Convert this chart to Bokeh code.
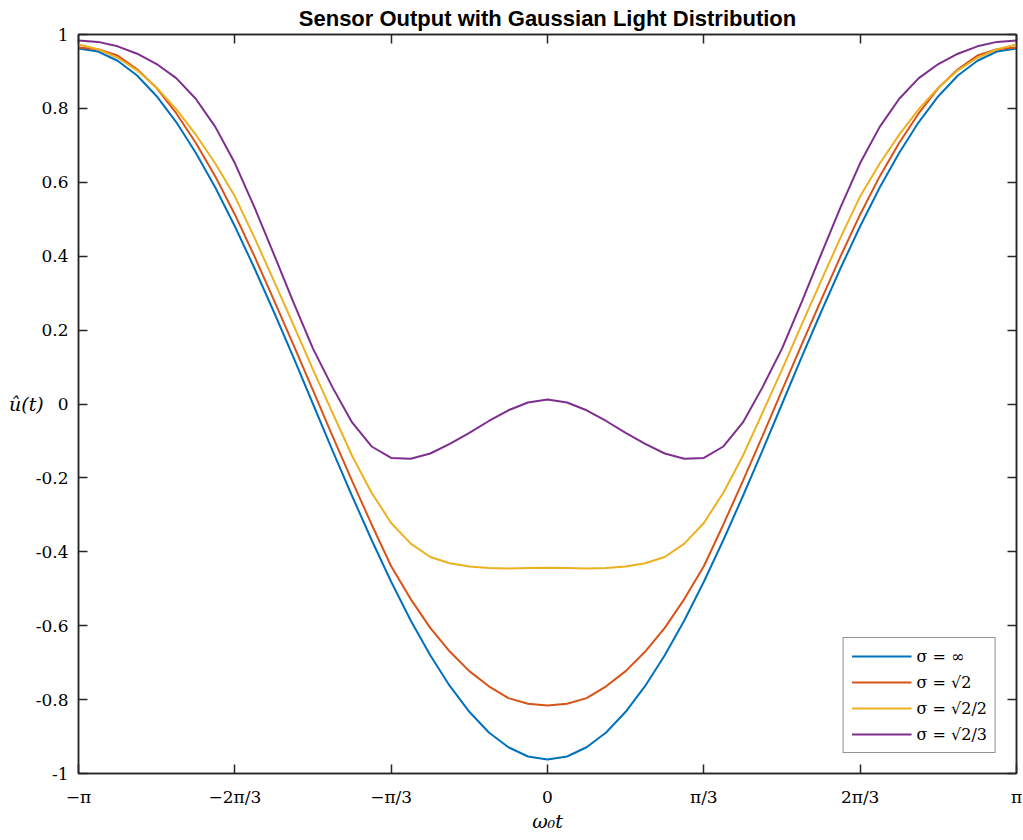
import math
from bokeh.plotting import figure
from bokeh.models import FixedTicker, LinearAxis, Legend, LegendItem, Range1d
from bokeh.embed import file_html
from bokeh.resources import INLINE

# phase omega0*t in degrees (converted to radians below)
phase_deg = [-180, -172.5, -165, -157.5, -150, -142.5, -135, -127.5, -120, -112.5, -105, -97.5,
             -90, -82.5, -75, -67.5, -60, -52.5, -45, -37.5, -30, -22.5, -15, -7.5,
             0, 7.5, 15, 22.5, 30, 37.5, 45, 52.5, 60, 67.5, 75, 82.5,
             90, 97.5, 105, 112.5, 120, 127.5, 135, 142.5, 150, 157.5, 165, 172.5, 180]

# sigma = infinity
u_inf = [0.962, 0.954, 0.929, 0.889, 0.833, 0.763, 0.680, 0.586, 0.481, 0.368, 0.249, 0.126,
         0.000, -0.126, -0.249, -0.368, -0.481, -0.586, -0.680, -0.763, -0.833, -0.889, -0.929, -0.954,
         -0.962, -0.954, -0.929, -0.889, -0.833, -0.763, -0.680, -0.586, -0.481, -0.368, -0.249, -0.126,
         0.000, 0.126, 0.249, 0.368, 0.481, 0.586, 0.680, 0.763, 0.833, 0.889, 0.929, 0.954, 0.962]
# sigma = sqrt(2)
u_s1 = [0.965, 0.960, 0.943, 0.906, 0.855, 0.787, 0.707, 0.616, 0.513, 0.400, 0.281, 0.160,
        0.037, -0.087, -0.208, -0.326, -0.439, -0.528, -0.606, -0.670, -0.723, -0.764, -0.796, -0.811,
        -0.816, -0.811, -0.796, -0.764, -0.723, -0.670, -0.606, -0.528, -0.439, -0.326, -0.208, -0.087,
        0.037, 0.160, 0.281, 0.400, 0.513, 0.616, 0.707, 0.787, 0.855, 0.906, 0.943, 0.960, 0.965]
# sigma = sqrt(2)/2
u_s2 = [0.973, 0.960, 0.937, 0.903, 0.856, 0.798, 0.729, 0.651, 0.562, 0.451, 0.333, 0.214,
        0.093, -0.024, -0.140, -0.240, -0.322, -0.378, -0.414, -0.431, -0.440, -0.444, -0.445, -0.444,
        -0.443, -0.444, -0.445, -0.444, -0.440, -0.431, -0.414, -0.378, -0.322, -0.240, -0.140, -0.024,
        0.093, 0.214, 0.333, 0.451, 0.562, 0.651, 0.729, 0.798, 0.856, 0.903, 0.937, 0.960, 0.973]
# sigma = sqrt(2)/3
u_s3 = [0.984, 0.980, 0.968, 0.948, 0.920, 0.882, 0.826, 0.750, 0.652, 0.533, 0.405, 0.275,
        0.150, 0.045, -0.050, -0.115, -0.146, -0.148, -0.134, -0.108, -0.078, -0.046, -0.017, 0.004,
        0.012, 0.004, -0.017, -0.046, -0.078, -0.108, -0.134, -0.148, -0.146, -0.115, -0.050, 0.045,
        0.150, 0.275, 0.405, 0.533, 0.652, 0.750, 0.826, 0.882, 0.920, 0.948, 0.968, 0.980, 0.984]

series_labels = ["σ = ∞", "σ = √2", "σ = √2/2", "σ = √2/3"]
series_colors = ["#0072BD", "#D95319", "#EDB120", "#7E2F8E"]

x_tick_mult = [-3, -2, -1, 0, 1, 2, 3]   # multiples of pi/3
x_tick_labels = ["−π", "−2π/3", "−π/3", "0", "π/3", "2π/3", "π"]
y_ticks = [-1.0, -0.8, -0.6, -0.4, -0.2, 0.0, 0.2, 0.4, 0.6, 0.8, 1.0]
y_tick_labels = ["-1", "-0.8", "-0.6", "-0.4", "-0.2", "0", "0.2", "0.4", "0.6", "0.8", "1"]

x = [d * math.pi / 180.0 for d in phase_deg]
x_ticks = [m * math.pi / 3.0 for m in x_tick_mult]

AX = "#262626"
SERIF = "DejaVu Serif"

p = figure(frame_width=938, frame_height=739, output_backend="svg", toolbar_location=None,
           x_range=Range1d(-math.pi, math.pi), y_range=Range1d(-1, 1),
           min_border_left=78, min_border_right=6, min_border_top=34, min_border_bottom=40,
           background_fill_color="white", border_fill_color="white")

p.title.text = "Sensor Output with Gaussian Light Distribution"
p.title.text_font = "Liberation Sans"
p.title.text_font_size = "22px"
p.title.text_font_style = "bold"
p.title.align = "center"
p.title.text_color = "black"
p.title.standoff = 7

p.grid.visible = False
p.outline_line_color = AX
p.outline_line_width = 1.5
p.outline_line_alpha = 1.0

renderers = []
for ys, c in zip([u_inf, u_s1, u_s2, u_s3], series_colors):
    r = p.line(x, ys, line_color=c, line_width=2)
    renderers.append(r)

def style_axis(ax, ticks, show_labels):
    ax.ticker = FixedTicker(ticks=ticks)
    ax.axis_line_color = AX
    ax.axis_line_width = 1.5
    ax.major_tick_line_color = AX
    ax.major_tick_line_width = 1.5
    ax.major_tick_in = 9
    ax.major_tick_out = 0
    ax.minor_tick_line_color = None
    if not show_labels:
        ax.major_label_text_font_size = "1px"
        ax.major_label_text_color = None
        ax.major_label_standoff = 0

xa = p.xaxis[0]
style_axis(xa, x_ticks, True)
xa.major_label_overrides = {t: l for t, l in zip(x_ticks, x_tick_labels)}
xa.major_label_text_font = SERIF
xa.major_label_text_font_size = "17px"
xa.major_label_text_color = "black"
xa.major_label_standoff = 13
xa.axis_label = "ω₀t"
xa.axis_label_text_font = SERIF
xa.axis_label_text_font_style = "italic"
xa.axis_label_text_font_size = "19px"
xa.axis_label_text_color = "black"
xa.axis_label_standoff = 0

ya = p.yaxis[0]
style_axis(ya, y_ticks, True)
ya.major_label_overrides = {t: l for t, l in zip(y_ticks, y_tick_labels)}
ya.major_label_text_font = SERIF
ya.major_label_text_font_size = "17px"
ya.major_label_text_color = "black"
ya.major_label_standoff = 10
ya.axis_label = "û(t)"
ya.axis_label_orientation = "horizontal"
ya.axis_label_text_font = SERIF
ya.axis_label_text_font_style = "italic"
ya.axis_label_text_font_size = "19px"
ya.axis_label_text_color = "black"
ya.axis_label_standoff = -11

top = LinearAxis()
style_axis(top, x_ticks, False)
p.add_layout(top, "above")
right = LinearAxis()
style_axis(right, y_ticks, False)
p.add_layout(right, "right")

legend = Legend(items=[LegendItem(label=l, renderers=[r]) for l, r in zip(series_labels, renderers)],
                location="bottom_right")
legend.border_line_color = AX
legend.border_line_width = 1.5
legend.label_text_font = SERIF
legend.label_text_font_size = "16px"
legend.label_text_color = "black"
legend.glyph_width = 60
legend.glyph_height = 20
legend.label_height = 20
legend.spacing = 6
legend.padding = 8
legend.margin = 20
legend.label_standoff = 5
legend.background_fill_alpha = 1.0
p.add_layout(legend)

open("out.html", "w").write(file_html(p, INLINE))
